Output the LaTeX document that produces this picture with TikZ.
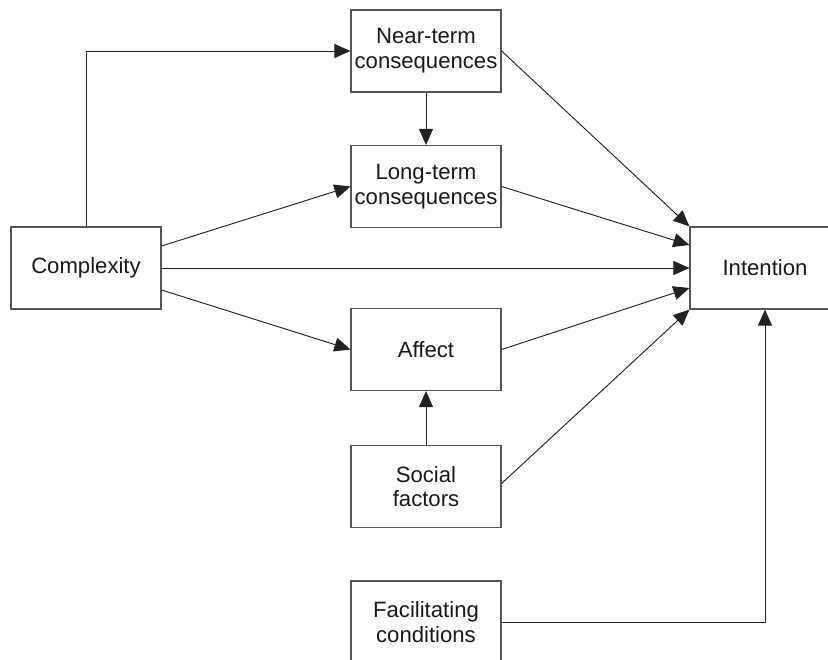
\documentclass[tikz,border=0pt]{standalone}
\usepackage{fontspec}
\setmainfont{Liberation Sans}
\usetikzlibrary{arrows.meta,calc}
\definecolor{boxline}{HTML}{555555}
\definecolor{conn}{HTML}{222222}
\begin{document}
\begin{tikzpicture}[x=0.75pt,y=-0.75pt,
  box/.style={draw=boxline,line width=0.9pt,minimum width=112.5pt,minimum height=61.5pt,
    inner sep=0pt,align=center,font=\fontsize{16.6}{18.5}\selectfont,text=black!90},
  conn/.style={draw=conn,line width=0.7pt,-{Triangle[length=12pt,width=10.5pt]}},
  plain/.style={draw=conn,line width=0.7pt}]
\useasboundingbox (0,0) rectangle (828,660);
\fill[white] (0,0) rectangle (828,660);
\clip (0,0) rectangle (828,660);
\node[box] (near) at (426,51) {Near-term\\consequences};
\node[box] (long) at (426,186.5) {Long-term\\consequences};
\node[box] (comp) at (86,268) {Complexity};
\node[box] (intent) at (765,268) {Intention};
\node[box] (affect) at (426,349.5) {Affect};
\node[box] (social) at (426,486.5) {Social\\factors};
\node[box] (facil) at (426,622) {Facilitating\\conditions};

\draw[conn] (comp.north) |- (near.west);
\draw[conn] (near.south) -- (long.north);
\draw[conn] ($(comp.east)+(0,-22)$) -- (long.west);
\draw[conn] (comp.east) -- (intent.west);
\draw[conn] ($(comp.east)+(0,22)$) -- (affect.west);
\draw[conn] (social.north) -- (affect.south);
\draw[conn] (near.east) -- (intent.north west);
\draw[conn] (long.east) -- ($(intent.west)+(0,-23)$);
\draw[conn] (affect.east) -- ($(intent.west)+(0,20)$);
\draw[conn] ($(social.east)+(0,-3)$) -- (intent.south west);
\draw[conn] (facil.east) -| (intent.south);
\end{tikzpicture}
\end{document}
